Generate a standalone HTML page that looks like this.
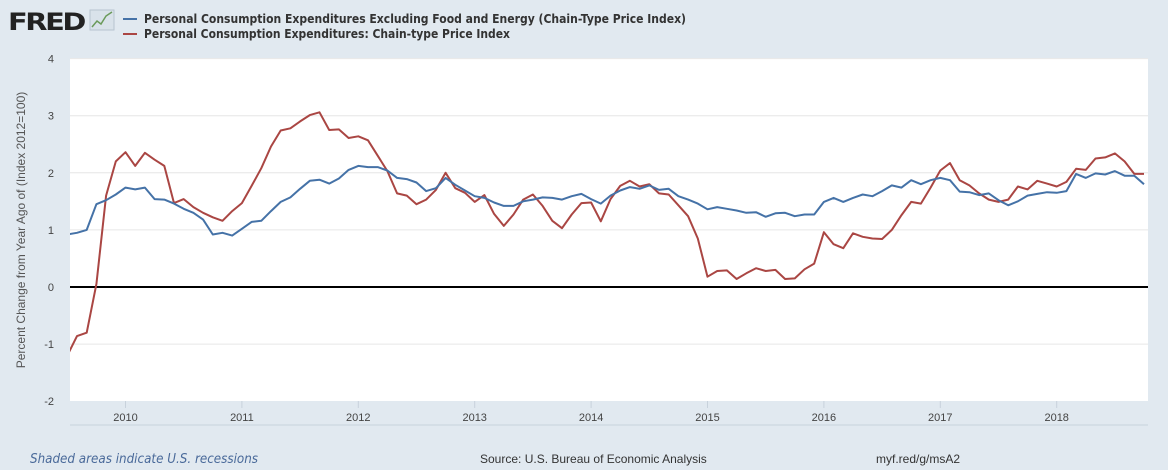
<!DOCTYPE html>
<html><head><meta charset="utf-8"><style>
body{margin:0;width:1168px;height:470px;background:#e1e9f0;overflow:hidden;font-family:"Liberation Sans",sans-serif}
svg{display:block}
</style></head><body>
<svg id="chart" width="1168" height="470" xmlns="http://www.w3.org/2000/svg">
<rect x="0" y="0" width="1168" height="470" fill="#e1e9f0"/>
<g>
<text x="8" y="30" font-family="DejaVu Sans, sans-serif" font-weight="bold" font-size="24" fill="#222" letter-spacing="-2" textLength="76" lengthAdjust="spacingAndGlyphs">FRED</text>
<rect x="90" y="10" width="24" height="20" fill="#d9e2ea" stroke="#b8c4cf"/>
<polyline points="92,27 97,21 101,24 106,16 112,12" fill="none" stroke="#6a9a5a" stroke-width="1.5"/>
</g>
<g>
<line x1="123" y1="19" x2="137" y2="19" stroke="#4572a7" stroke-width="2"/>
<text x="144" y="23" font-size="12.5" font-weight="bold" fill="#333" font-family="DejaVu Sans, sans-serif" textLength="542" lengthAdjust="spacingAndGlyphs">Personal Consumption Expenditures Excluding Food and Energy (Chain-Type Price Index)</text>
<line x1="123" y1="34" x2="137" y2="34" stroke="#aa4643" stroke-width="2"/>
<text x="144" y="38" font-size="12.5" font-weight="bold" fill="#333" font-family="DejaVu Sans, sans-serif" textLength="366" lengthAdjust="spacingAndGlyphs">Personal Consumption Expenditures: Chain-type Price Index</text>
</g>
<rect x="70" y="58" width="1078" height="343" fill="#fff"/>
<g id="grid"></g>
<g id="yticks"></g>
<g id="xticks"></g>
<line x1="70" y1="425" x2="1148" y2="425" stroke="#c8d2dc"/>
<text transform="translate(25,230) rotate(-90)" text-anchor="middle" font-size="12" fill="#555">Percent Change from Year Ago of (Index 2012=100)</text>
<defs><clipPath id="clip"><rect x="70" y="58" width="1078" height="343"/></clipPath></defs>
<g id="series" clip-path="url(#clip)"></g>
<text x="30" y="463" font-size="13" font-style="italic" fill="#4a6a9a" font-family="DejaVu Sans, sans-serif" textLength="228" lengthAdjust="spacingAndGlyphs">Shaded areas indicate U.S. recessions</text>
<text x="480" y="463" font-size="12" fill="#333">Source: U.S. Bureau of Economic Analysis</text>
<text x="876" y="463" font-size="12" fill="#333">myf.red/g/msA2</text>
</svg>
<script>
const yTicks = [4,3,2,1,0,-1,-2];
const yearLabels = ["2010","2011","2012","2013","2014","2015","2016","2017","2018"];
const yearMonthIndex = [6,18,30,42,54,66,78,90,102];
// monthly, starting Jul 2009
const coreValues = [0.92,0.95,1.0,1.45,1.52,1.62,1.74,1.71,1.74,1.54,1.53,1.46,1.37,1.3,1.18,0.92,0.95,0.9,1.02,1.14,1.16,1.33,1.49,1.57,1.72,1.86,1.88,1.81,1.9,2.05,2.12,2.1,2.1,2.04,1.91,1.89,1.83,1.68,1.73,1.91,1.79,1.69,1.59,1.56,1.48,1.42,1.42,1.5,1.53,1.57,1.56,1.53,1.59,1.63,1.54,1.46,1.6,1.69,1.75,1.72,1.78,1.7,1.72,1.59,1.53,1.46,1.36,1.4,1.37,1.34,1.3,1.31,1.23,1.29,1.3,1.24,1.27,1.27,1.49,1.56,1.49,1.56,1.62,1.59,1.68,1.78,1.74,1.87,1.8,1.87,1.91,1.87,1.67,1.66,1.61,1.64,1.52,1.43,1.5,1.6,1.63,1.66,1.65,1.68,1.98,1.91,1.99,1.97,2.03,1.95,1.95,1.8];
const headlineValues = [-1.2,-0.86,-0.8,0.05,1.6,2.2,2.36,2.12,2.35,2.23,2.12,1.47,1.54,1.4,1.3,1.22,1.16,1.33,1.47,1.77,2.08,2.46,2.74,2.78,2.9,3.01,3.06,2.75,2.76,2.61,2.64,2.57,2.3,2.03,1.64,1.6,1.45,1.53,1.7,2.0,1.73,1.65,1.49,1.61,1.28,1.07,1.27,1.53,1.62,1.42,1.16,1.03,1.27,1.47,1.48,1.15,1.54,1.77,1.86,1.76,1.8,1.64,1.62,1.43,1.24,0.85,0.18,0.28,0.29,0.14,0.24,0.33,0.28,0.3,0.14,0.15,0.31,0.41,0.96,0.75,0.68,0.94,0.88,0.85,0.84,1.0,1.26,1.49,1.46,1.74,2.04,2.17,1.87,1.78,1.64,1.53,1.49,1.53,1.76,1.71,1.86,1.81,1.76,1.84,2.07,2.05,2.25,2.27,2.34,2.2,1.98,1.98];
const NS='http://www.w3.org/2000/svg';
const xScale = i => 67.3 + 9.7*i;
const yScale = v => 287 - 57.1*v;
function mk(tag, attrs, parent){const e=document.createElementNS(NS,tag);for(const k in attrs)e.setAttribute(k,attrs[k]);parent.appendChild(e);return e;}
const grid=document.getElementById('grid'), yt=document.getElementById('yticks'), xt=document.getElementById('xticks'), ser=document.getElementById('series');
yTicks.forEach(v=>{
  if(v!==0&&v!==-2){const g=mk('line',{x1:70,x2:1148,y1:yScale(v),y2:yScale(v),stroke:'#e6e6e6'},grid);
  
  }
  const t=mk('text',{x:54,y:yScale(v)+4,'text-anchor':'end','font-size':11,fill:'#444'},yt);
  t.textContent=String(v);
  
  
});
yearLabels.forEach((lab,k)=>{
  const x=xScale(yearMonthIndex[k]);
  const l=mk('line',{x1:x,x2:x,y1:401,y2:408,stroke:'#c8d2dc'},xt);
  
  
  const t=mk('text',{x:x,y:421,'text-anchor':'middle','font-size':11,fill:'#444'},xt);
  t.textContent=lab;
  
  
});
const z=mk('line',{x1:70,x2:1148,y1:yScale(0),y2:yScale(0),stroke:'#000','stroke-width':2},ser);


function line(vals,color,name){
  const p=mk('polyline',{points:vals.map((v,i)=>xScale(i).toFixed(1)+','+yScale(v).toFixed(1)).join(' '),fill:'none',stroke:color,'stroke-width':2,'stroke-linejoin':'round'},ser);
  
  
}
line(headlineValues,'#aa4643','headline-pce-line');
line(coreValues,'#4572a7','core-pce-line');
</script>
</body></html>
